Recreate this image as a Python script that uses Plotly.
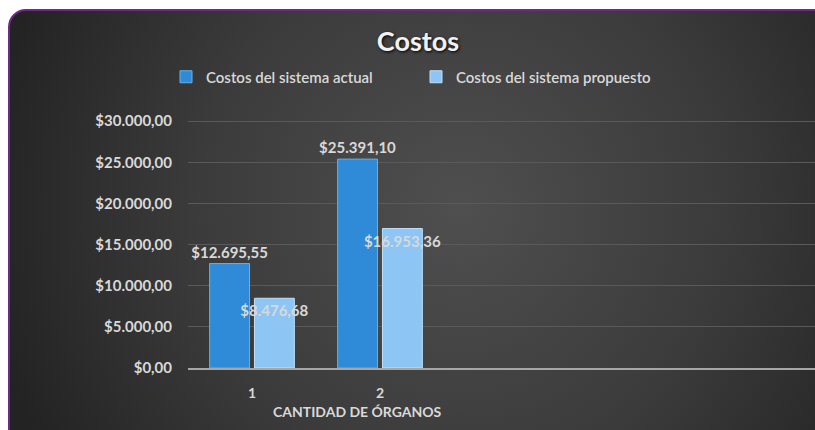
import base64
import plotly.graph_objects as go

# ---- data ----
categories = ["1", "2"]
series_names = ["Costos del sistema actual", "Costos del sistema propuesto"]
actual_costs = [12695.55, 25391.10]
proposed_costs = [8476.68, 16953.36]
y_ticks = [0, 5000, 10000, 15000, 20000, 25000, 30000]
title_text = "Costos"
x_title = "CANTIDAD DE ÓRGANOS"

# ---- layout geometry ----
W, H = 815, 430
ML, MR, MT, MB = 188, 0, 120, 62
PW, PH = W - ML - MR, H - MT - MB
FONT = "Lato, Carlito, Calibri, 'Open Sans', sans-serif"
TXT = "#d9d9d9"

svg = f"""<svg xmlns='http://www.w3.org/2000/svg' width='{W}' height='{H}' viewBox='0 0 {W} {H}'>
<defs>
<radialGradient id='g' gradientUnits='userSpaceOnUse' cx='460' cy='210' r='480'>
<stop offset='0' stop-color='#4f4f4f'/>
<stop offset='0.55' stop-color='#3b3b3b'/>
<stop offset='1' stop-color='#232323'/>
</radialGradient>
</defs>
<rect x='0' y='0' width='{W}' height='{H}' fill='#ffffff'/>
<rect x='9' y='10' width='840' height='460' rx='17' ry='17' fill='url(#g)' stroke='#6f2a86' stroke-width='2'/>
</svg>"""
src = "data:image/svg+xml;base64," + base64.b64encode(svg.encode()).decode()

fig = go.Figure()
fig.add_trace(go.Bar(
    name=series_names[0], x=categories, y=actual_costs,
    marker=dict(color="#2f8ad8", line=dict(color="#63b3ee", width=1)),
    texttemplate="$%{y:,.2f}", textposition="outside",
    textfont=dict(family=FONT, size=15, color=TXT, weight="bold"),
    constraintext="none", textangle=0, cliponaxis=False,
))
fig.add_trace(go.Bar(
    name=series_names[1], x=categories, y=proposed_costs,
    marker=dict(color="#8dc5f5", line=dict(color="#bfe0fb", width=1)),
    texttemplate="$%{y:,.2f}", textposition="inside", insidetextanchor="end",
    textfont=dict(family=FONT, size=15, color=TXT, weight="bold"),
    constraintext="none", textangle=0, cliponaxis=False,
))

fig.update_layout(
    width=W, height=H,
    margin=dict(l=ML, r=MR, t=MT, b=MB, pad=0),
    paper_bgcolor="#ffffff", plot_bgcolor="rgba(0,0,0,0)",
    separators=",.",
    barmode="group", bargap=0.30, bargroupgap=0.11,
    images=[dict(source=src, xref="paper", yref="paper",
                 x=-ML / PW, y=1 + MT / PH, sizex=W / PW, sizey=H / PH,
                 xanchor="left", yanchor="top", sizing="stretch", layer="below")],
    title=dict(text=title_text, x=418 / W, xref="container", xanchor="center",
               y=1 - 42 / H, yref="container", yanchor="middle",
               font=dict(family=FONT, size=27, color="#f2f2f2", weight="bold",
                         shadow="1px 1px 3px #000")),
    legend=dict(orientation="h", xref="container", yref="container",
                x=166 / W, xanchor="left", y=1 - 77 / H, yanchor="middle",
                font=dict(family=FONT, size=15, color=TXT, weight=600),
                bgcolor="rgba(0,0,0,0)", itemwidth=30, entrywidth=205,
                traceorder="normal"),
    xaxis=dict(type="category", range=[-0.5, -0.5 + PW / 128],
               showline=True, linecolor="#a6a6a6", linewidth=2,
               showgrid=False, ticks="", ticklen=0, ticklabelstandoff=11,
               tickfont=dict(family=FONT, size=14, color=TXT, weight="bold"),
               title=dict(text="")),
    yaxis=dict(range=[0, 30150], tickvals=y_ticks, tickformat="$,.2f",
               showgrid=True, gridcolor="#5a5a5a", gridwidth=1, zeroline=False,
               showline=False, ticks="", ticklabelstandoff=15,
               tickfont=dict(family=FONT, size=15, color=TXT, weight="bold")),
    annotations=[dict(text=x_title, xref="paper", yref="paper",
                      x=(357 - ML) / PW, y=(368 - 411) / PH,
                      xanchor="center", yanchor="middle", showarrow=False,
                      font=dict(family=FONT, size=14, color=TXT, weight="bold"))],
)

fig.write_html("out.html")
